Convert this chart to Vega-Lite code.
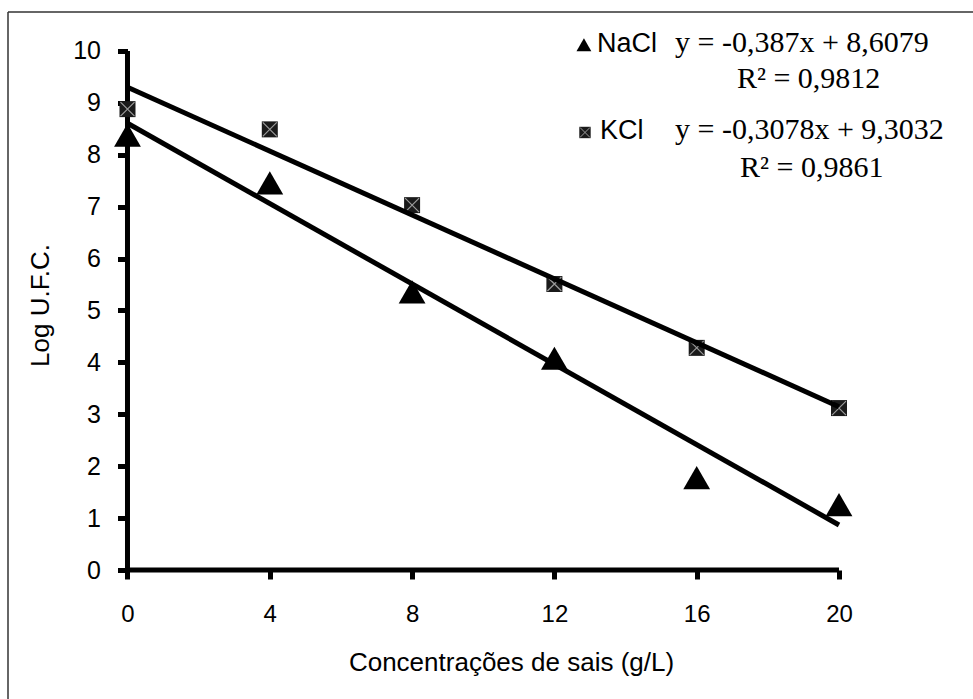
{
  "$schema": "https://vega.github.io/schema/vega-lite/v6.json",
  "width": 965,
  "height": 687,
  "autosize": {"type": "none"},
  "padding": {"left": 8, "top": 12, "right": 0, "bottom": 0},
  "background": "white",
  "config": {"view": {"stroke": null}},
  "datasets": {
    "frame": [
      {"x": -3.359, "y": 10.7514, "x2": 23.767, "y2": 10.7514},
      {"x": -3.359, "y": -2.4855, "x2": -3.359, "y2": 10.7514}
    ],
    "axislines": [
      {"x": 0, "y": 0, "x2": 20, "y2": 0},
      {"x": 0, "y": 0, "x2": 0, "y2": 10}
    ],
    "obs": [
      {"salt": "NaCl", "x": 0, "y": 8.38},
      {"salt": "NaCl", "x": 4, "y": 7.46},
      {"salt": "NaCl", "x": 8, "y": 5.36},
      {"salt": "NaCl", "x": 12, "y": 4.08},
      {"salt": "NaCl", "x": 16, "y": 1.78},
      {"salt": "NaCl", "x": 20, "y": 1.26},
      {"salt": "KCl", "x": 0, "y": 8.88},
      {"salt": "KCl", "x": 4, "y": 8.49},
      {"salt": "KCl", "x": 8, "y": 7.03},
      {"salt": "KCl", "x": 12, "y": 5.51},
      {"salt": "KCl", "x": 16, "y": 4.28},
      {"salt": "KCl", "x": 20, "y": 3.12}
    ],
    "fit": [
      {"salt": "NaCl", "x": 0, "y": 8.6079},
      {"salt": "NaCl", "x": 20, "y": 0.8679},
      {"salt": "KCl", "x": 0, "y": 9.3032},
      {"salt": "KCl", "x": 20, "y": 3.1472}
    ],
    "legsym": [
      {"salt": "NaCl", "x": 12.83, "y": 10.12},
      {"salt": "KCl", "x": 12.86, "y": 8.43}
    ],
    "leglab": [
      {"x": 13.2, "y": 9.98, "label": "NaCl"},
      {"x": 13.28, "y": 8.3, "label": "KCl"}
    ],
    "eqs": [
      {"x": 15.39, "y": 9.98, "label": "y = -0,387x + 8,6079"},
      {"x": 17.13, "y": 9.29, "label": "R² = 0,9812"},
      {"x": 15.39, "y": 8.3, "label": "y = -0,3078x + 9,3032"},
      {"x": 17.22, "y": 7.57, "label": "R² = 0,9861"}
    ]
  },
  "encoding": {
    "x": {
      "field": "x",
      "type": "quantitative",
      "scale": {"domain": [-3.359, 23.767], "nice": false, "zero": false},
      "axis": {
        "orient": "bottom",
        "offset": -129,
        "values": [0, 4, 8, 12, 16, 20],
        "domain": false,
        "grid": false,
        "tickSize": 9,
        "tickWidth": 5,
        "tickColor": "black",
        "labelFont": "Liberation Sans",
        "labelFontSize": 24,
        "labelColor": "black",
        "labelPadding": 23,
        "labelFlush": false,
        "labelOverlap": false,
        "title": "Concentrações de sais (g/L)",
        "titleFont": "Liberation Sans",
        "titleFontSize": 26,
        "titleFontWeight": "normal",
        "titleColor": "black",
        "titleX": 503,
        "titleY": 100,
        "titleAlign": "center",
        "titleBaseline": "alphabetic"
      }
    },
    "y": {
      "field": "y",
      "type": "quantitative",
      "scale": {"domain": [-2.4855, 10.7514], "nice": false, "zero": false},
      "axis": {
        "orient": "left",
        "offset": -119.5,
        "values": [0, 1, 2, 3, 4, 5, 6, 7, 8, 9, 10],
        "domain": false,
        "grid": false,
        "tickSize": 10,
        "tickWidth": 5,
        "tickColor": "black",
        "labelFont": "Liberation Sans",
        "labelFontSize": 25,
        "labelColor": "black",
        "labelPadding": 17,
        "labelFlush": false,
        "labelOverlap": false,
        "title": "Log U.F.C.",
        "titleFont": "Liberation Sans",
        "titleFontSize": 26,
        "titleFontWeight": "normal",
        "titleColor": "black",
        "titleX": -87.5,
        "titleY": 293,
        "titleAngle": -90,
        "titleAlign": "center",
        "titleBaseline": "middle"
      }
    }
  },
  "layer": [
    {
      "data": {"name": "frame"},
      "mark": {"type": "rule", "color": "#333333", "strokeWidth": 1.5},
      "encoding": {"x2": {"field": "x2"}, "y2": {"field": "y2"}}
    },
    {
      "data": {"name": "axislines"},
      "mark": {"type": "rule", "color": "black", "strokeWidth": 5},
      "encoding": {"x2": {"field": "x2"}, "y2": {"field": "y2"}}
    },
    {
      "data": {"name": "obs"},
      "transform": [{"filter": "datum.salt === 'NaCl'"}],
      "mark": {"type": "point", "shape": "triangle-up", "size": 720, "filled": true, "color": "black", "opacity": 1}
    },
    {
      "data": {"name": "obs"},
      "transform": [{"filter": "datum.salt === 'KCl'"}],
      "mark": {"type": "point", "shape": "square", "size": 256, "filled": true, "color": "#1a1a1a", "opacity": 1}
    },
    {
      "data": {"name": "obs"},
      "transform": [{"filter": "datum.salt === 'KCl'"}],
      "mark": {"type": "point", "shape": "M-1,-1L1,1M-1,1L1,-1", "size": 196, "filled": false, "stroke": "#9a9a9a", "strokeWidth": 1.2, "opacity": 1}
    },
    {
      "data": {"name": "fit"},
      "mark": {"type": "line", "color": "black", "strokeWidth": 5},
      "encoding": {"detail": {"field": "salt"}}
    },
    {
      "data": {"name": "legsym"},
      "transform": [{"filter": "datum.salt === 'NaCl'"}],
      "mark": {"type": "point", "shape": "triangle-up", "size": 220, "filled": true, "color": "black", "opacity": 1}
    },
    {
      "data": {"name": "legsym"},
      "transform": [{"filter": "datum.salt === 'KCl'"}],
      "mark": {"type": "point", "shape": "square", "size": 130, "filled": true, "color": "#1a1a1a", "opacity": 1}
    },
    {
      "data": {"name": "legsym"},
      "transform": [{"filter": "datum.salt === 'KCl'"}],
      "mark": {"type": "point", "shape": "M-1,-1L1,1M-1,1L1,-1", "size": 100, "filled": false, "stroke": "#9a9a9a", "strokeWidth": 1, "opacity": 1}
    },
    {
      "data": {"name": "leglab"},
      "mark": {"type": "text", "align": "left", "baseline": "alphabetic", "font": "Liberation Sans", "fontSize": 27, "color": "black"},
      "encoding": {"text": {"field": "label"}}
    },
    {
      "data": {"name": "eqs"},
      "mark": {"type": "text", "align": "left", "baseline": "alphabetic", "font": "Liberation Serif", "fontSize": 30, "color": "black"},
      "encoding": {"text": {"field": "label"}}
    }
  ]
}
